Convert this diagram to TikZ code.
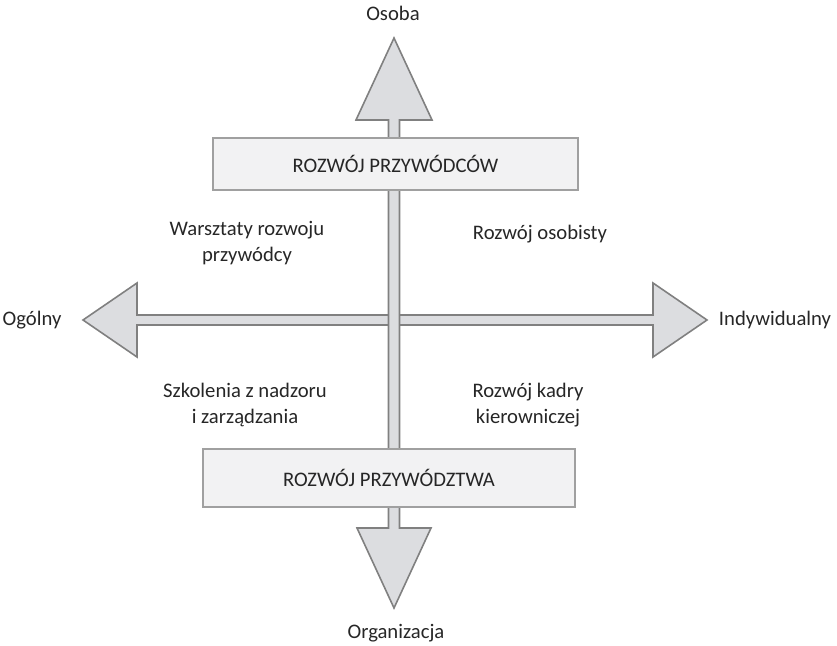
\documentclass[tikz,border=0pt]{standalone}
\usepackage{fontspec}
\setmainfont{Carlito}

\definecolor{arrowfill}{RGB}{220,221,224}
\definecolor{arrowline}{RGB}{128,128,128}
\definecolor{boxfill}{RGB}{242,242,243}
\definecolor{boxline}{RGB}{160,160,160}
\definecolor{txt}{RGB}{38,38,38}

\tikzset{every picture/.style={line width=0.75pt}}
\tikzset{
  axislabel/.style={font=\fontsize{15.5}{19}\selectfont, text=txt},
  quadtext/.style={font=\fontsize{15.5}{19}\selectfont, text=txt, align=center},
  stylebox/.style={draw=boxline, fill=boxfill, line width=1pt},
  blockarrow/.style={draw=arrowline, fill=arrowfill, line width=1.2pt, line join=miter}
}

\begin{document}
\begin{tikzpicture}[x=0.75pt,y=0.75pt,yscale=-1,xscale=1]
\useasboundingbox (0,0) rectangle (837,645);

% Axis end coordinates
\coordinate (tipleft) at (83,320);
\coordinate (tipright) at (707,320);
\coordinate (tiptop) at (394,38);
\coordinate (tipbottom) at (394,608);

%Block Arrow: horizontal
\draw [blockarrow] (tipleft) -- (137,283) -- (137,315) -- (653,315) -- (653,283) -- (tipright) -- (653,357) -- (653,325) -- (137,325) -- (137,357) -- cycle ;
%Block Arrow: vertical
\draw [blockarrow] (tiptop) -- (432,120) -- (399.5,120) -- (399.5,528) -- (431,528) -- (tipbottom) -- (357,528) -- (388.5,528) -- (388.5,120) -- (356,120) -- cycle ;

%Shape: Rectangle
\draw [stylebox] (213,138) rectangle (578,190) ;
%Shape: Rectangle
\draw [stylebox] (203,449) rectangle (575,507) ;

% Text Node
\node [axislabel] (przywodcow) at (395.5,164) {ROZWÓJ PRZYWÓDCÓW};
% Text Node
\node [axislabel] (przywodztwa) at (389,478) {ROZWÓJ PRZYWÓDZTWA};
% Text Node
\node [axislabel] (osoba) at (393,13) {Osoba};
% Text Node
\node [axislabel] (organizacja) at (396,633) {Organizacja};
% Text Node
\node [axislabel] (ogolny) at (32,320) {Ogólny};
% Text Node
\node [axislabel] (indywidualny) at (775,320) {Indywidualny};
% Text Node
\node [quadtext] (warsztaty) at (247,243) {Warsztaty rozwoju\\przywódcy};
% Text Node
\node [quadtext] (osobisty) at (540,234) {Rozwój osobisty};
% Text Node
\node [quadtext] (szkolenia) at (245,405) {Szkolenia z nadzoru\\i zarządzania};
% Text Node
\node [quadtext] (kadry) at (528,405) {Rozwój kadry\\kierowniczej};

\end{tikzpicture}
\end{document}
